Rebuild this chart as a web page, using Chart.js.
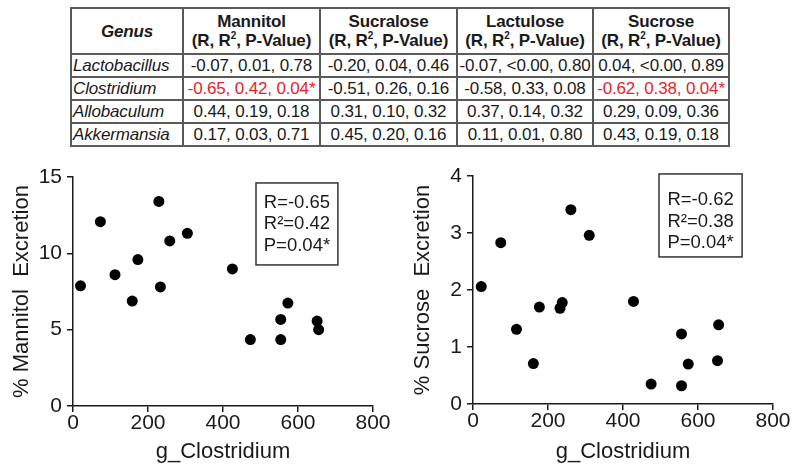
<!DOCTYPE html>
<html>
<head>
<meta charset="utf-8">
<script src="https://cdn.jsdelivr.net/npm/chart.js@4.4.0/dist/chart.umd.min.js"></script>
<style>
  body { margin: 0; background: #fff; }
  #page { position: relative; width: 793px; height: 466px; overflow: hidden; font-family: "Liberation Sans", Arial, sans-serif; }
  #corrTable { position: absolute; left: 70px; top: 7px; width: 658px; border-collapse: collapse; table-layout: fixed; font-size: 17px; letter-spacing: -0.15px; color: #1a1a1a; }
  #corrTable th, #corrTable td { border: 2px solid #5a5a5a; padding: 0; text-align: center; white-space: nowrap; overflow: hidden; }
  #corrTable th { height: 44px; font-weight: bold; line-height: 19px; }
  #corrTable th.genus { font-style: italic; }
  #corrTable td { height: 21px; line-height: 21px; }
  #corrTable td.genus { text-align: left; font-style: italic; padding-left: 1px; }
  #corrTable td.sig { color: #e3242b; }
  #corrTable sup { font-size: 10px; line-height: 0; }
  .plot { position: absolute; top: 150px; }
</style>
</head>
<body>
<div id="page">
  <table id="corrTable">
    <colgroup><col style="width:112px"><col style="width:137px"><col style="width:137px"><col style="width:136px"><col style="width:136px"></colgroup>
    <thead><tr id="headRow"></tr></thead>
    <tbody id="tableBody"></tbody>
  </table>
  <canvas id="chartMannitol" class="plot" width="395" height="316" style="left:0px"></canvas>
  <canvas id="chartSucrose" class="plot" width="398" height="316" style="left:395px"></canvas>
</div>
<script>
// dados da tabela de correlação
const genera = ['Lactobacillus', 'Clostridium', 'Allobaculum', 'Akkermansia'];
const sugars = ['Mannitol', 'Sucralose', 'Lactulose', 'Sucrose'];
const corrMannitol = ['-0.07, 0.01, 0.78', '-0.65, 0.42, 0.04*', '0.44, 0.19, 0.18', '0.17, 0.03, 0.71'];
const corrSucralose = ['-0.20, 0.04, 0.46', '-0.51, 0.26, 0.16', '0.31, 0.10, 0.32', '0.45, 0.20, 0.16'];
const corrLactulose = ['-0.07, <0.00, 0.80', '-0.58, 0.33, 0.08', '0.37, 0.14, 0.32', '0.11, 0.01, 0.80'];
const corrSucrose = ['0.04, <0.00, 0.89', '-0.62, 0.38, 0.04*', '0.29, 0.09, 0.36', '0.43, 0.19, 0.18'];

// dados dos gráficos de dispersão
const xTicks = [0, 200, 400, 600, 800];
const mannitolX = [20, 73, 112, 158, 173, 229, 233, 258, 305, 425, 473, 554, 554, 573, 651, 655];
const mannitolY = [7.87, 12.07, 8.6, 6.87, 9.59, 13.4, 7.8, 10.81, 11.31, 8.98, 4.35, 5.67, 4.35, 6.74, 5.56, 5.0];
const sucroseX = [22, 74, 116, 161, 177, 232, 238, 261, 310, 428, 475, 556, 556, 574, 652, 655];
const sucroseY = [2.06, 2.83, 1.31, 0.71, 1.70, 1.68, 1.78, 3.41, 2.96, 1.80, 0.35, 1.23, 0.32, 0.70, 0.76, 1.39];
const mannitolStats = ['R=-0.65', 'R\u00B2=0.42', 'P=0.04*'];
const sucroseStats = ['R=-0.62', 'R\u00B2=0.38', 'P=0.04*'];

const FONT = '"Liberation Sans", Arial, sans-serif';
const INK = '#1a1a1a';

function buildTable() {
  const head = document.getElementById('headRow');
  head.innerHTML = '<th class="genus">Genus</th>' +
    sugars.map((s) => `<th>${s}<br>(R, R<sup>2</sup>, P-Value)</th>`).join('');
  const body = document.getElementById('tableBody');
  const cols = [corrMannitol, corrSucralose, corrLactulose, corrSucrose];
  genera.forEach((g, i) => {
    const tr = document.createElement('tr');
    let html = `<td class="genus">${g}</td>`;
    cols.forEach((col) => {
      const v = col[i];
      const sig = v.endsWith('*') ? ' class="sig"' : '';
      html += `<td${sig}>${v.replace('<', '&lt;')}</td>`;
    });
    tr.innerHTML = html;
    body.appendChild(tr);
  });
}

// caixa com R, R², P
const statsBoxPlugin = {
  id: 'statsBox',
  afterDraw(chart, args, opts) {
    const a = chart.chartArea;
    const w = a.right - a.left;
    const h = a.bottom - a.top;
    const x0 = a.left + opts.box[0] * w;
    const x1 = a.left + opts.box[1] * w;
    const y0 = a.top + opts.box[2] * h;
    const y1 = a.top + opts.box[3] * h;
    const ctx = chart.ctx;
    ctx.save();
    ctx.strokeStyle = '#333';
    ctx.lineWidth = 1.5;
    ctx.strokeRect(x0, y0, x1 - x0, y1 - y0);
    ctx.fillStyle = INK;
    ctx.font = `18.5px ${FONT}`;
    ctx.textAlign = 'center';
    ctx.textBaseline = 'middle';
    const cx = (x0 + x1) / 2;
    const cy = (y0 + y1) / 2 + opts.shift;
    opts.lines.forEach((t, i) => {
      ctx.fillText(t, cx, cy + (i - 1) * 21.5);
    });
    ctx.restore();
  },
};

function makeScatter(canvasId, xs, ys, yMax, yStep, yTitle, cfg) {
  const ctx = document.getElementById(canvasId).getContext('2d');
  const pts = xs.map((x, i) => ({ x, y: ys[i] }));
  return new Chart(ctx, {
    type: 'scatter',
    data: { datasets: [{ data: pts, backgroundColor: '#000', borderColor: '#000', pointRadius: 5.5, pointBorderWidth: 0 }] },
    options: {
      responsive: false,
      animation: false,
      layout: { padding: { top: cfg.top, right: cfg.right, left: 0, bottom: 0 } },
      plugins: {
        legend: { display: false },
        tooltip: { enabled: false },
        statsBox: { box: cfg.box, lines: cfg.lines, shift: cfg.shift },
      },
      scales: {
        x: {
          type: 'linear', min: 0, max: 800,
          afterBuildTicks: (s) => { s.ticks = xTicks.map((v) => ({ value: v })); },
          afterFit: (s) => { s.height = cfg.xHeight; },
          ticks: { color: INK, padding: 1, font: { size: 21, family: FONT, lineHeight: 1 } },
          grid: { drawOnChartArea: false, drawTicks: true, tickLength: 6, color: INK, lineWidth: 1.5 },
          border: { color: INK, width: 1.5 },
          title: { display: true, text: 'g_Clostridium', color: INK, font: { size: 22, family: FONT }, padding: { top: 0, bottom: 1 } },
        },
        y: {
          type: 'linear', min: 0, max: yMax,
          ticks: { stepSize: yStep, color: INK, padding: 5, font: { size: 21, family: FONT } },
          afterFit: (s) => { s.width = cfg.yWidth; },
          grid: { drawOnChartArea: false, drawTicks: true, tickLength: 6, color: INK, lineWidth: 1.5 },
          border: { color: INK, width: 1.5 },
          title: { display: true, text: yTitle, color: INK, font: { size: 22, family: FONT }, padding: { top: cfg.yTitlePad, bottom: 0 } },
        },
      },
    },
    plugins: [statsBoxPlugin],
  });
}

buildTable();
makeScatter('chartMannitol', mannitolX, mannitolY, 15, 5, '% Mannitol  Excretion', {
  top: 27, right: 22, xHeight: 60, yWidth: 73, yTitlePad: 9,
  box: [0.61, 0.883, 0.026, 0.384], lines: mannitolStats, shift: 0,
});
makeScatter('chartSucrose', sucroseX, sucroseY, 4, 1, '% Sucrose  Excretion', {
  top: 26, right: 20, xHeight: 62, yWidth: 78, yTitlePad: 15,
  box: [0.62, 0.897, -0.009, 0.355], lines: sucroseStats, shift: 6,
});
</script>
</body>
</html>
